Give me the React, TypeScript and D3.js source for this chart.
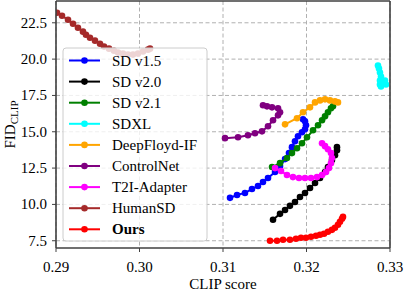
import * as d3 from 'd3';

// CLIP score vs FID_CLIP curves
const sd15: [number, number][] = [
  [0.31084, 10.45], [0.31168, 10.65], [0.31263, 10.79], [0.31347, 11.06], [0.31419, 11.27],
  [0.31479, 11.54], [0.31539, 11.82], [0.31623, 12.23], [0.31683, 12.64], [0.31743, 13.12],
  [0.3179, 13.53], [0.31826, 13.94], [0.31862, 14.35], [0.31898, 14.69], [0.31946, 14.97],
  [0.31982, 15.17], [0.31994, 15.45], [0.31982, 15.72], [0.31958, 15.86],
];
const sd20: [number, number][] = [
  [0.31599, 8.94], [0.31683, 9.35], [0.31743, 9.62], [0.31802, 9.9], [0.31862, 10.17],
  [0.31922, 10.51], [0.31982, 10.79], [0.32042, 11.13], [0.32102, 11.47], [0.32162, 11.82],
  [0.32222, 12.23], [0.32257, 12.57], [0.32305, 13.05], [0.32341, 13.39], [0.32365, 13.73],
  [0.32365, 13.94],
];
const sd21: [number, number][] = [
  [0.31587, 12.57], [0.31683, 12.84], [0.31766, 13.19], [0.31826, 13.53], [0.31886, 13.87],
  [0.31946, 14.21], [0.32006, 14.62], [0.32078, 15.1], [0.32138, 15.45], [0.32186, 15.79],
  [0.32222, 16.06], [0.32257, 16.34], [0.32293, 16.61], [0.32317, 16.75],
];
const sdxl: [number, number][] = [
  [0.32856, 19.56], [0.32868, 19.35], [0.3288, 19.08], [0.32892, 18.8], [0.3288, 18.53],
  [0.3288, 18.25], [0.32892, 18.12], [0.32916, 18.39], [0.3294, 18.53], [0.32952, 18.25],
];
const deepFloyd: [number, number][] = [
  [0.31743, 15.51], [0.31886, 15.93], [0.31958, 16.34], [0.32042, 16.68], [0.32102, 17.02],
  [0.32162, 17.16], [0.32222, 17.23], [0.32281, 17.16], [0.32341, 17.09], [0.32377, 17.02],
];
const controlNet: [number, number][] = [
  [0.31024, 14.56], [0.3118, 14.62], [0.31299, 14.76], [0.31383, 14.9], [0.31467, 15.03],
  [0.31539, 15.38], [0.31599, 15.79], [0.31659, 16.13], [0.31683, 16.34], [0.31659, 16.61],
  [0.31587, 16.68], [0.31527, 16.75], [0.31479, 16.82],
];
const t2iAdapter: [number, number][] = [
  [0.31623, 12.5], [0.31695, 12.3], [0.31766, 12.02], [0.31838, 11.88], [0.3191, 11.82],
  [0.31982, 11.82], [0.32054, 11.82], [0.32126, 11.88], [0.32186, 12.02], [0.32234, 12.23],
  [0.32269, 12.5], [0.32293, 12.84], [0.32305, 13.19], [0.32293, 13.53], [0.32257, 13.8],
  [0.32222, 14.01], [0.32186, 14.21],
];
const humanSD: [number, number][] = [
  [0.29012, 23.19], [0.29072, 22.98], [0.29144, 22.71], [0.29204, 22.43], [0.29263, 22.16],
  [0.29323, 21.89], [0.29359, 21.68], [0.29407, 21.47], [0.29467, 21.27], [0.29527, 21.06],
  [0.29575, 20.86], [0.29635, 20.72], [0.29695, 20.58], [0.29743, 20.45], [0.29802, 20.38],
  [0.29862, 20.31], [0.29922, 20.31], [0.29982, 20.38], [0.30042, 20.52], [0.30102, 20.65],
  [0.30126, 20.72],
];
const ours: [number, number][] = [
  [0.31563, 7.5], [0.31647, 7.5], [0.31719, 7.57], [0.31802, 7.57], [0.31874, 7.64],
  [0.31934, 7.71], [0.31994, 7.71], [0.32054, 7.77], [0.32114, 7.84], [0.32162, 7.91],
  [0.3221, 7.98], [0.32257, 8.12], [0.32305, 8.25], [0.32341, 8.39], [0.32377, 8.6],
  [0.32401, 8.8], [0.32425, 9.01], [0.32437, 9.14],
];

const seriesNames = ['SD v1.5', 'SD v2.0', 'SD v2.1', 'SDXL', 'DeepFloyd-IF', 'ControlNet', 'T2I-Adapter', 'HumanSD', 'Ours'];
const seriesData = [sd15, sd20, sd21, sdxl, deepFloyd, controlNet, t2iAdapter, humanSD, ours];
const seriesColors = ['#0000ff', '#000000', '#008000', '#00ffff', '#ffa500', '#800080', '#ff00ff', '#a52a2a', '#ff0000'];

const xTicks = [0.29, 0.3, 0.31, 0.32, 0.33];
const yTicks = [7.5, 10, 12.5, 15, 17.5, 20, 22.5];

const W = 404;
const H = 292;
const plot = { left: 56, right: 390, top: 1, bottom: 248 };
const font = '"Liberation Serif", "DejaVu Serif", serif';

export default function App() {
  const x = d3.scaleLinear().domain([0.29, 0.33]).range([plot.left, plot.right]);
  const y = d3.scaleLinear().domain([7.0, 24.0]).range([plot.bottom, plot.top]);
  const line = d3.line<[number, number]>().x(d => x(d[0])).y(d => y(d[1]));

  const legendX = 63;
  const legendY = 48;
  const legendStep = 21.1;

  return (
    <svg width={W} height={H} style={{ position: 'absolute', left: 0, top: 0, background: '#fff' }}
      fontFamily={font}>
      <defs>
        <clipPath id="plotClip">
          <rect x={plot.left} y={plot.top} width={plot.right - plot.left} height={plot.bottom - plot.top} />
        </clipPath>
      </defs>

      {/* grid */}
      {xTicks.map(t => (
        <line key={'gx' + t} x1={x(t)} x2={x(t)} y1={plot.top} y2={plot.bottom}
          stroke="#b0b0b0" strokeWidth={1} strokeDasharray="4,2.5" />
      ))}
      {yTicks.map(t => (
        <line key={'gy' + t} x1={plot.left} x2={plot.right} y1={y(t)} y2={y(t)}
          stroke="#b0b0b0" strokeWidth={1} strokeDasharray="4,2.5" />
      ))}

      {/* series */}
      <g clipPath="url(#plotClip)">
        {seriesData.map((data, i) => (
          <g key={seriesNames[i]}>
            <path d={line(data) || ''} fill="none" stroke={seriesColors[i]} strokeWidth={2} />
            {data.map((d, j) => (
              <circle key={j} cx={x(d[0])} cy={y(d[1])} r={3.3} fill={seriesColors[i]} />
            ))}
          </g>
        ))}
      </g>

      {/* legend */}
      <rect x={legendX} y={legendY} width={144} height={193} rx={3} fill="#fff" fillOpacity={0.8}
        stroke="#cccccc" strokeWidth={1} />
      {seriesNames.map((name, i) => {
        const cy = legendY + 12.5 + i * legendStep;
        return (
          <g key={'lg' + name}>
            <line x1={69} x2={100} y1={cy} y2={cy} stroke={seriesColors[i]} strokeWidth={2} />
            <circle cx={84.5} cy={cy} r={3.3} fill={seriesColors[i]} />
            <text x={112} y={cy + 5} fontSize={15} fontWeight={name === 'Ours' ? 'bold' : 'normal'}>{name}</text>
          </g>
        );
      })}

      {/* axes */}
      <g stroke="#404040" strokeWidth={1.6} fill="none">
        <line x1={plot.left} x2={plot.left} y1={plot.top} y2={plot.bottom} />
        <line x1={plot.right} x2={plot.right} y1={plot.top} y2={plot.bottom} />
        <line x1={plot.left} x2={plot.right} y1={plot.bottom} y2={plot.bottom} />
        <line x1={plot.left} x2={plot.right} y1={plot.top} y2={plot.top} />
      </g>
      {xTicks.map(t => (
        <g key={'xt' + t}>
          <line x1={x(t)} x2={x(t)} y1={plot.bottom} y2={plot.bottom + 4} stroke="#404040" strokeWidth={1} />
          <text x={x(t)} y={272} fontSize={15} textAnchor="middle">{t.toFixed(2)}</text>
        </g>
      ))}
      {yTicks.map(t => (
        <g key={'yt' + t}>
          <line x1={plot.left - 4} x2={plot.left} y1={y(t)} y2={y(t)} stroke="#404040" strokeWidth={1} />
          <text x={47} y={y(t) + 5} fontSize={15} textAnchor="end">{t.toFixed(1)}</text>
        </g>
      ))}

      {/* axis labels */}
      <text x={(plot.left + plot.right) / 2} y={289} fontSize={15} textAnchor="middle">CLIP score</text>
      <text transform={`translate(15,${(plot.top + plot.bottom) / 2}) rotate(-90)`} fontSize={15} textAnchor="middle">
        FID<tspan fontSize={11} dy={3}>CLIP</tspan>
      </text>
    </svg>
  );
}
